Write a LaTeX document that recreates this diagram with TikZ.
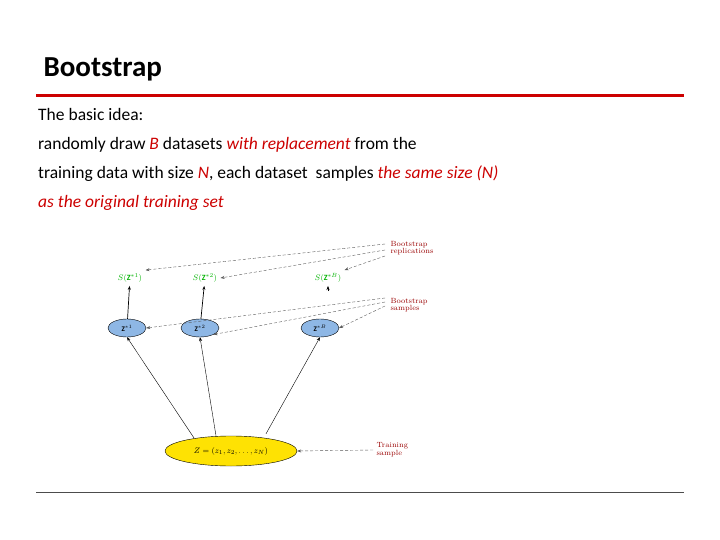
\documentclass[tikz,border=0pt]{standalone}
\usepackage{fontspec}
\setmainfont{Carlito}
\newfontfamily\lmr{Latin Modern Roman}
\usetikzlibrary{arrows.meta,shapes.geometric}
\begin{document}
\begin{tikzpicture}[x=1pt,y=-1pt,
 dsh/.style={densely dashed,gray!70!black,line width=0.4pt,-{Stealth[length=4pt]}},
 sol/.style={line width=0.4pt,-{Stealth[length=4pt]}},
 sl/.style={text=green!70!black,font=\fontsize{8}{8}\selectfont},
 zz/.style={ellipse,draw,fill=cyan!60!blue!45,minimum width=38pt,minimum height=18pt,inner sep=0pt,font=\fontsize{7}{7}\selectfont},
 lab/.style={text=red!60!black,font=\fontsize{7.5}{6.5}\selectfont\lmr,align=left,anchor=west}]
\useasboundingbox (0,0) rectangle (720,540);
\node[anchor=west,font=\fontsize{29}{30}\selectfont\bfseries] (t) at (40,69) {Bootstrap};
\draw[red!80!black,line width=3pt] (36,96) -- (684,96);
\node[anchor=north west,align=left,font=\fontsize{17.5}{29}\selectfont,inner sep=0pt] (body) at (38,108)
{The basic idea:\\randomly draw \textcolor{red!80!black}{\itshape B} datasets \textcolor{red!80!black}{\itshape with replacement} from the\\training data with size \textcolor{red!80!black}{\itshape N}, each dataset\ \ samples \textcolor{red!80!black}{\itshape the same size (N)}\\\textcolor{red!80!black}{\itshape as the original training set}};
\node[sl] (s1) at (130,278) {$S(\mathbf{Z}^{*1})$};
\node[sl] (s2) at (205,278) {$S(\mathbf{Z}^{*2})$};
\node[sl] (s3) at (328,278) {$S(\mathbf{Z}^{*B})$};
\node[zz] (z1) at (127,328) {$\mathbf{Z}^{*1}$};
\node[zz] (z2) at (200,328) {$\mathbf{Z}^{*2}$};
\node[zz] (z3) at (320,328) {$\mathbf{Z}^{*B}$};
\node[ellipse,draw,fill=yellow!85!orange,minimum width=132pt,minimum height=30pt,inner sep=0pt,font=\fontsize{8}{8}\selectfont] (Z) at (231,451) {$Z=(z_1,z_2,\ldots,z_N)$};
\node[lab] (rep) at (387,248) {Bootstrap\\replications};
\node[lab] (smp) at (387,305) {Bootstrap\\samples};
\node[lab] (trn) at (373,450) {Training\\sample};
\coordinate (r1) at (385,244); \coordinate (r2) at (385,250); \coordinate (r3) at (385,256);
\draw[dsh] (r1) -- (s1.north east);
\draw[dsh] (r2) -- (s2.east);
\draw[dsh] (r3) -- (s3.north east);
\coordinate (p1) at (385,298); \coordinate (p2) at (385,302); \coordinate (p3) at (385,306);
\draw[dsh] (p1) -- (z1.east);
\draw[dsh] (p2) -- (z2.south east);
\draw[dsh] (p3) -- (z3.east);
\draw[dsh] (trn.west) -- (Z.east);
\draw[sol,line width=0.7pt] (z1) -- (s1);
\draw[sol,line width=0.7pt] (z2) -- (s2);
\coordinate (z3t) at (328,291);
\draw[sol] (z3t) -- (s3.south);
\draw[sol] ([shift={(10,-2)}]Z.north west) -- (z1.south);
\draw[sol] ([shift={(-15,0)}]Z.north) -- (z2.south);
\draw[sol] ([shift={(35,-2)}]Z.north) -- (z3.south);
\draw[gray!60!black,line width=0.8pt] (36,492) -- (684,492);
\end{tikzpicture}
\end{document}
